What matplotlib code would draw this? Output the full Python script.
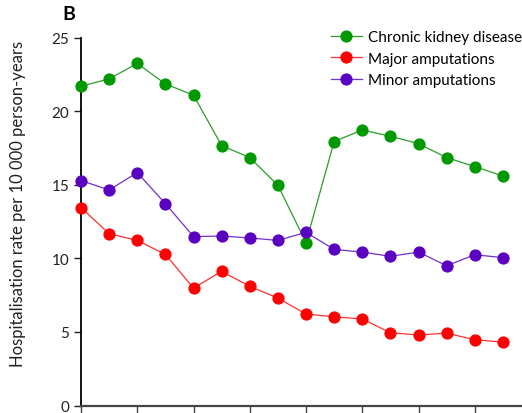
import matplotlib
matplotlib.use("Agg")
import matplotlib.pyplot as plt

plt.rcParams['font.family'] = ['Lato', 'DejaVu Sans']

#%% Data #####################################################################
years = list(range(2000, 2016))
ckd = [21.7, 22.2, 23.25, 21.86, 21.09, 17.67, 16.85, 14.97,
       11.07, 17.94, 18.73, 18.3, 17.8, 16.85, 16.24, 15.6]
major = [13.45, 11.68, 11.22, 10.27, 7.98, 9.12, 8.1, 7.3,
         6.22, 6.03, 5.88, 4.95, 4.79, 4.92, 4.47, 4.31]
minor = [15.29, 14.65, 15.83, 13.72, 11.48, 11.52, 11.39, 11.22,
         11.77, 10.61, 10.43, 10.14, 10.43, 9.5, 10.25, 10.05]
series_names = ["Chronic kidney disease", "Major amputations", "Minor amputations"]

#%% Plot #####################################################################
W, H = 522, 414
fig = plt.figure(figsize=(W / 100, H / 100), dpi=100)
ax = fig.add_axes([81 / W, 7.5 / H, 450 / W, (406.5 - 38.7) / H])

styles = [(ckd, '#009900', '#2a9d2a'),
          (major, '#ff0000', '#ff3030'),
          (minor, '#5a00c0', '#7030cc')]
for (vals, mc, lc), name in zip(styles, series_names):
    ax.plot(years, vals, '-', color=lc, lw=0.9, marker='o', ms=7.8,
            mfc=mc, mec=mc, label=name, clip_on=False, zorder=3)

ax.set_xlim(2000, 2016)
ax.set_ylim(0, 25)
ax.set_yticks([0, 5, 10, 15, 20, 25])
ax.set_xticks(range(2000, 2017, 2))
# year labels sit below the visible area in the reference
ax.tick_params(axis='x', length=6, width=1, colors='#444444', labelbottom=False)
ax.tick_params(axis='y', labelsize=11, length=5, width=1, colors='#222222')
for s in ['top', 'right']:
    ax.spines[s].set_visible(False)
ax.spines['left'].set_linewidth(1.3)
ax.spines['left'].set_color('black')
ax.spines['bottom'].set_linewidth(1.6)
ax.spines['bottom'].set_color('#444444')

fig.text(18 / W, 1 - 204 / H, "Hospitalisation rate per 10 000 person-years",
         rotation=90, ha='center', va='center', fontsize=12, color='#222222')
fig.text(62 / W, 1 - 15 / H, "B", fontsize=14, fontweight='bold',
         ha='left', va='center')

ax.legend(loc='upper left', bbox_to_anchor=(331 / W, 1 - 31 / H),
          bbox_transform=fig.transFigure, frameon=False, fontsize=11,
          handlelength=2.0, handletextpad=0.4, labelspacing=0.5,
          borderpad=0, borderaxespad=0)

fig.savefig("out.png", dpi=100)
